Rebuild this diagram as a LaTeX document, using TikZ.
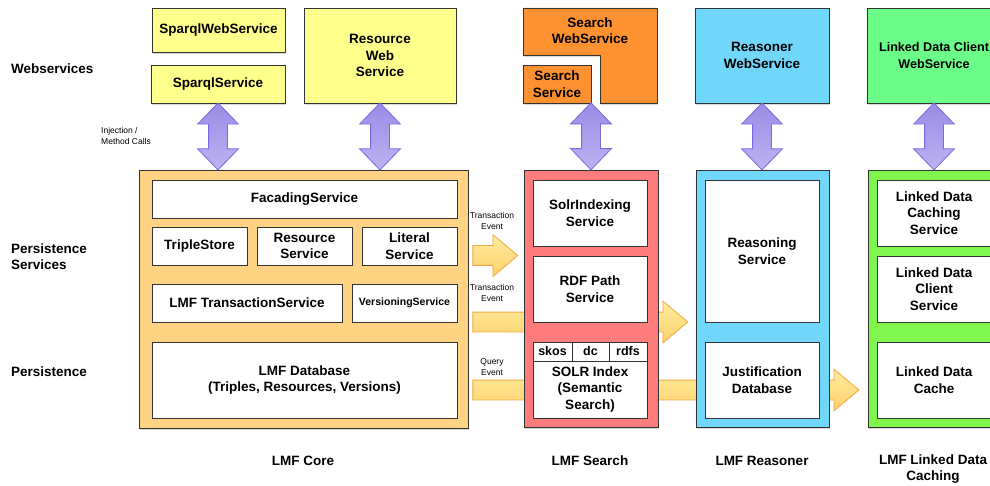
\documentclass[tikz,border=0pt]{standalone}
\usepackage{fontspec}
\setmainfont{Liberation Sans}
\usetikzlibrary{shapes.arrows,shadows,calc,backgrounds}
\definecolor{edge}{HTML}{333333}
\definecolor{wsyellow}{HTML}{FFFF8C}
\definecolor{corefill}{HTML}{FFD384}
\definecolor{srchorange}{HTML}{FF9230}
\definecolor{srchred}{HTML}{FF7C7C}
\definecolor{reasblue}{HTML}{70D6FA}
\definecolor{ldwsgreen}{HTML}{6CFC88}
\definecolor{ldgreen}{HTML}{80F54E}
\definecolor{purpdark}{HTML}{9A8BE6}
\definecolor{purplight}{HTML}{BDB2F2}
\definecolor{purpedge}{HTML}{7A6AE0}
\definecolor{ylight}{HTML}{FFEDA0}
\definecolor{ydark}{HTML}{FFD06A}
\definecolor{yedge}{HTML}{F0A840}
\newcommand\bxfont{\bfseries\fontsize{13.5}{16.5}\selectfont}
\newcommand\smfont{\fontsize{8.5}{10.5}\selectfont}
\begin{document}
\begin{tikzpicture}[x=1pt,y=-1pt,
  shad/.style={drop shadow={shadow xshift=0.8pt,shadow yshift=-2.2pt,opacity=.3}},
  box/.style={draw=edge,line width=0.8pt,align=center,inner sep=0pt,font=\bxfont},
  wsbox/.style={box,shad},
  cont/.style={draw=edge,line width=0.9pt,inner sep=0pt,shad},
  inbox/.style={box,fill=white},
  lbl/.style={font=\bxfont,align=center,inner sep=0pt},
  sidelbl/.style={font=\bxfont,align=left,anchor=west,inner sep=0pt},
  evlbl/.style={font=\smfont,align=center,inner sep=0pt},
  darrow/.style={double arrow,draw=purpedge,line width=0.8pt,top color=purpdark,bottom color=purplight,
     double arrow head extend=11pt,double arrow tip angle=88,minimum height=67pt,
     inner xsep=0pt,inner ysep=9pt,rotate=90},
  yarrow/.style={single arrow,draw=yedge,line width=0.8pt,top color=ylight,bottom color=ydark,
     single arrow head extend=11pt,single arrow tip angle=80,inner xsep=0pt,inner ysep=9.5pt,anchor=tail},
]
\useasboundingbox (0,0) rectangle (990,486);

% ---------- containers ----------
\node[cont,fill=corefill,minimum width=329pt,minimum height=258pt] (core) at (303.5,299) {};
\node[cont,fill=srchred,minimum width=134pt,minimum height=257pt] (search) at (591,298.5) {};
\node[cont,fill=reasblue,minimum width=133pt,minimum height=257pt] (reas) at (762.5,298.5) {};
\node[cont,fill=ldgreen,minimum width=134pt,minimum height=257pt] (linked) at (935,298.5) {};

% ---------- yellow event arrows (behind containers) ----------
\begin{pgfonlayer}{background}
\node[yarrow,minimum height=45pt] (ev1) at ($(core.east |- 0,255.5)+(4,0)$) {};
\node[yarrow,minimum height=215pt] (ev2) at ($(core.east |- 0,322)+(4,0)$) {};
\node[yarrow,minimum height=386pt] (ev3) at ($(core.east |- 0,390)+(4,0)$) {};
\end{pgfonlayer}

% ---------- top web services ----------
\node[wsbox,fill=wsyellow,minimum width=133pt,minimum height=44pt] (sws) at (218.5,30) {SparqlWebService};
\node[wsbox,fill=wsyellow,minimum width=134pt,minimum height=38pt] (ss) at (218,84) {SparqlService};
\node[wsbox,fill=wsyellow,minimum width=152pt,minimum height=95pt] (rws) at (380,55.5) {Resource\\Web\\Service};
\path[draw=edge,line width=0.8pt,fill=srchorange,shad]
  (523,8) -- (657,8) -- (657,103) -- (600,103) -- (600,55) -- (523,55) -- cycle;
\node[lbl] (srchws) at (590,30.5) {Search\\WebService};
\node[wsbox,fill=srchorange,minimum width=68pt,minimum height=38pt] (srchs) at (557,84) {Search\\Service};
\coordinate (srchbot) at (591,103);
\node[wsbox,fill=reasblue,minimum width=134pt,minimum height=95pt] (rsws) at (762,55.5) {Reasoner\\WebService};
\node[wsbox,fill=ldwsgreen,minimum width=134pt,minimum height=95pt,font=\bfseries\fontsize{12.6}{16.5}\selectfont] (ldws) at (934,55.5) {Linked Data Client\\WebService};

% ---------- purple double arrows ----------
\node[darrow] (pa1) at ($(ss.south)!.5!(ss.south |- core.north)$) {};
\node[darrow] (pa2) at ($(rws.south)!.5!(rws.south |- core.north)$) {};
\node[darrow] (pa3) at ($(srchbot)!.5!(srchbot |- search.north)$) {};
\node[darrow] (pa4) at ($(rsws.south)!.5!(rsws.south |- reas.north)$) {};
\node[darrow] (pa5) at ($(ldws.south)!.5!(ldws.south |- linked.north)$) {};

% ---------- LMF Core ----------
\node[inbox,minimum width=305pt,minimum height=38pt] (fac) at (304.5,199) {FacadingService};
\node[inbox,minimum width=95pt,minimum height=38pt] (triple) at (199.5,246) {TripleStore};
\node[inbox,minimum width=95pt,minimum height=38pt] (rserv) at (304.5,246) {Resource\\Service};
\node[inbox,minimum width=95pt,minimum height=38pt] (lit) at (409.5,246) {Literal\\Service};
\node[inbox,minimum width=190pt,minimum height=38pt] (trans) at (247,303) {LMF TransactionService};
\node[inbox,minimum width=105pt,minimum height=38pt,font=\bfseries\fontsize{10.5}{12}\selectfont] (vers) at (404.5,303) {VersioningService};
\node[inbox,minimum width=305pt,minimum height=76pt] (db) at (304.5,380) {LMF Database\\(Triples, Resources, Versions)};

% ---------- LMF Search ----------
\node[inbox,minimum width=114pt,minimum height=66pt] (solri) at (590,213) {SolrIndexing\\Service};
\node[inbox,minimum width=114pt,minimum height=66pt] (rdfp) at (590,289) {RDF Path\\Service};
\node[inbox,minimum width=114pt,minimum height=76pt] (solr) at (590,380) {};
\node[inbox,minimum width=39pt,minimum height=19pt,font=\bfseries\fontsize{12.5}{14}\selectfont] (skos) at (552.5,351.5) {skos};
\node[inbox,minimum width=37pt,minimum height=19pt,font=\bfseries\fontsize{12.5}{14}\selectfont] (dc) at (590.5,351.5) {dc};
\node[inbox,minimum width=38pt,minimum height=19pt,font=\bfseries\fontsize{12.5}{14}\selectfont] (rdfs) at (628,351.5) {rdfs};
\node[lbl] (solrtxt) at (590,389.5) {SOLR Index\\(Semantic\\Search)};

% ---------- LMF Reasoner ----------
\node[inbox,minimum width=114pt,minimum height=142pt] (rsn) at (762,251) {Reasoning\\Service};
\node[inbox,minimum width=114pt,minimum height=76pt] (just) at (762,380) {Justification\\Database};

% ---------- LMF Linked Data Caching ----------
\node[inbox,minimum width=114pt,minimum height=66pt] (ldcs) at (934,213) {Linked Data\\Caching\\Service};
\node[inbox,minimum width=114pt,minimum height=66pt] (ldc) at (934,289) {Linked Data\\Client\\Service};
\node[inbox,minimum width=114pt,minimum height=76pt] (ldcache) at (934,380) {Linked Data\\Cache};

% ---------- labels ----------
\node[sidelbl] (lws) at (11,69) {Webservices};
\node[sidelbl] (lps) at (11,256.5) {Persistence\\Services};
\node[sidelbl] (lp) at (11,372) {Persistence};
\node[evlbl,align=left,anchor=west] (inj) at (101,136) {Injection /\\Method Calls};
\node[evlbl] (t1) at (492,221) {Transaction\\Event};
\node[evlbl] (t2) at (492,293) {Transaction\\Event};
\node[evlbl] (q1) at (492,367) {Query\\Event};
\node[lbl] (bcore) at (303,461) {LMF Core};
\node[lbl] (bsearch) at (590,461) {LMF Search};
\node[lbl] (breas) at (762,461) {LMF Reasoner};
\node[lbl] (blinked) at (933,469) {LMF Linked Data\\Caching};
\end{tikzpicture}
\end{document}
